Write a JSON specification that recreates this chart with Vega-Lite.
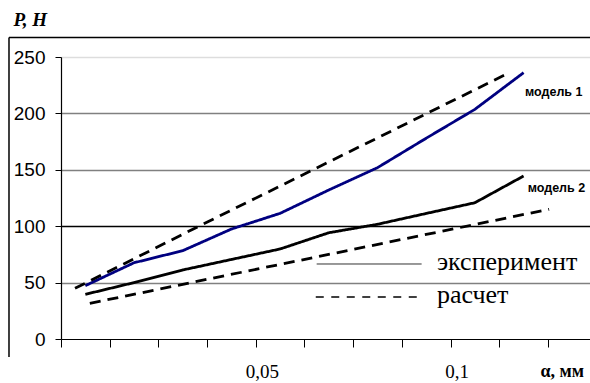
{
  "$schema": "https://vega.github.io/schema/vega-lite/v6.json",
  "width": 529,
  "height": 282,
  "autosize": {"type": "none"},
  "padding": {"left": 61, "top": 57, "right": 0, "bottom": 44},
  "background": "white",
  "config": {"view": {"stroke": null}},
  "layer": [
    {
      "data": {"values": [
        {"series": "модель 1 эксперимент", "alpha": 0.00625, "P": 47.3},
        {"series": "модель 1 эксперимент", "alpha": 0.01875, "P": 67.6},
        {"series": "модель 1 эксперимент", "alpha": 0.03125, "P": 78.3},
        {"series": "модель 1 эксперимент", "alpha": 0.04375, "P": 97.5},
        {"series": "модель 1 эксперимент", "alpha": 0.05625, "P": 111.4},
        {"series": "модель 1 эксперимент", "alpha": 0.06875, "P": 132.1},
        {"series": "модель 1 эксперимент", "alpha": 0.08125, "P": 151.9},
        {"series": "модель 1 эксперимент", "alpha": 0.09375, "P": 178},
        {"series": "модель 1 эксперимент", "alpha": 0.10625, "P": 203.6},
        {"series": "модель 1 эксперимент", "alpha": 0.11875, "P": 236.1},
        {"series": "модель 2 эксперимент", "alpha": 0.00625, "P": 39.6},
        {"series": "модель 2 эксперимент", "alpha": 0.01875, "P": 50},
        {"series": "модель 2 эксперимент", "alpha": 0.03125, "P": 61.2},
        {"series": "модель 2 эксперимент", "alpha": 0.04375, "P": 70.5},
        {"series": "модель 2 эксперимент", "alpha": 0.05625, "P": 79.8},
        {"series": "модель 2 эксперимент", "alpha": 0.06875, "P": 94.2},
        {"series": "модель 2 эксперимент", "alpha": 0.08125, "P": 101.7},
        {"series": "модель 2 эксперимент", "alpha": 0.09375, "P": 111.3},
        {"series": "модель 2 эксперимент", "alpha": 0.10625, "P": 120.8},
        {"series": "модель 2 эксперимент", "alpha": 0.11875, "P": 144.5},
        {"series": "модель 1 расчет", "alpha": 0.0036, "P": 44.9},
        {"series": "модель 1 расчет", "alpha": 0.0357, "P": 100.5},
        {"series": "модель 1 расчет", "alpha": 0.1148, "P": 235.6},
        {"series": "модель 2 расчет", "alpha": 0.0074, "P": 31.6},
        {"series": "модель 2 расчет", "alpha": 0.0614, "P": 69.8},
        {"series": "модель 2 расчет", "alpha": 0.1253, "P": 115.0}
      ]},
      "mark": {"type": "line", "strokeWidth": 2.8, "strokeCap": "butt"},
      "encoding": {
        "x": {
          "field": "alpha", "type": "quantitative",
          "scale": {"domain": [0, 0.1358], "nice": false, "zero": false},
          "axis": {
            "values": [0, 0.0125, 0.025, 0.0375, 0.05, 0.0625, 0.075, 0.0875, 0.1, 0.1125, 0.125],
            "labelExpr": "abs(datum.value - 0.05) < 1e-9 ? '0,05' : (abs(datum.value - 0.1) < 1e-9 ? '0,1' : '')",
            "title": "α, мм",
            "titleX": 479, "titleY": 37, "titleAlign": "left", "titleBaseline": "alphabetic",
            "titleFont": "Liberation Serif", "titleFontWeight": "bold", "titleFontSize": 18, "titleColor": "#000",
            "grid": false,
            "domainColor": "#000", "domainWidth": 1.2,
            "tickColor": "#000", "tickSize": 8, "tickWidth": 1,
            "labelFont": "Liberation Serif", "labelFontSize": 19, "labelColor": "#000",
            "labelPadding": 15, "labelOffset": 6, "labelFlush": false, "labelOverlap": false, "labelBound": false
          }
        },
        "y": {
          "field": "P", "type": "quantitative",
          "scale": {"domain": [0, 250], "nice": false, "zero": false},
          "axis": {
            "values": [0, 50, 100, 150, 200, 250],
            "title": "P, H",
            "titleAngle": 0, "titleX": -48, "titleY": -38, "titleAlign": "left", "titleBaseline": "middle",
            "titleFont": "Liberation Serif", "titleFontStyle": "italic", "titleFontWeight": "bold", "titleFontSize": 19, "titleColor": "#000",
            "grid": true,
            "gridColor": {"condition": [
              {"test": "datum.value === 100", "value": "#000000"},
              {"test": "datum.value === 250", "value": "#dddddd"},
              {"test": "datum.value === 0", "value": "transparent"}
            ], "value": "#808080"},
            "gridWidth": 1.5,
            "domainColor": "#000", "domainWidth": 1.2,
            "tickColor": "#000", "tickSize": 6, "tickWidth": 1,
            "labelFont": "Liberation Sans", "labelFontSize": 19, "labelColor": "#000", "labelPadding": 10
          }
        },
        "color": {
          "field": "series", "type": "nominal", "legend": null,
          "scale": {
            "domain": ["модель 1 эксперимент", "модель 2 эксперимент", "модель 1 расчет", "модель 2 расчет"],
            "range": ["#000080", "#000000", "#000000", "#000000"]
          }
        },
        "strokeDash": {
          "field": "series", "type": "nominal", "legend": null,
          "scale": {
            "domain": ["модель 1 эксперимент", "модель 2 эксперимент", "модель 1 расчет", "модель 2 расчет"],
            "range": [[1, 0], [1, 0], [11, 7], [11, 7]]
          }
        }
      }
    },
    {
      "data": {"values": [{}]},
      "mark": {"type": "rule", "color": "#000", "strokeWidth": 1.5},
      "encoding": {
        "x": {"datum": -0.01335, "type": "quantitative"},
        "y": {"datum": -15.96, "type": "quantitative"},
        "y2": {"datum": 267.3}
      }
    },
    {
      "data": {"values": [{}]},
      "mark": {"type": "rule", "color": "#000", "strokeWidth": 1.5},
      "encoding": {
        "x": {"datum": -0.01335, "type": "quantitative"},
        "x2": {"datum": 0.15},
        "y": {"datum": 267.3, "type": "quantitative"}
      }
    },
    {
      "data": {"values": [{}]},
      "mark": {"type": "rule", "color": "#333", "strokeWidth": 1},
      "encoding": {
        "x": {"datum": 0.06563, "type": "quantitative"},
        "x2": {"datum": 0.09258},
        "y": {"datum": 66.5, "type": "quantitative"}
      }
    },
    {
      "data": {"values": [{}]},
      "mark": {"type": "rule", "color": "#000", "strokeWidth": 1.5, "strokeDash": [8, 7.5]},
      "encoding": {
        "x": {"datum": 0.0654, "type": "quantitative"},
        "x2": {"datum": 0.0918},
        "y": {"datum": 37.2, "type": "quantitative"}
      }
    },
    {
      "data": {"values": [{}]},
      "mark": {"type": "text", "text": "эксперимент", "align": "left", "baseline": "alphabetic", "font": "Liberation Serif", "fontSize": 26, "color": "#000"},
      "encoding": {
        "x": {"datum": 0.09651, "type": "quantitative"},
        "y": {"datum": 61.2, "type": "quantitative"}
      }
    },
    {
      "data": {"values": [{}]},
      "mark": {"type": "text", "text": "расчет", "align": "left", "baseline": "alphabetic", "font": "Liberation Serif", "fontSize": 26, "color": "#000"},
      "encoding": {
        "x": {"datum": 0.09651, "type": "quantitative"},
        "y": {"datum": 31.9, "type": "quantitative"}
      }
    },
    {
      "data": {"values": [{}]},
      "mark": {"type": "text", "text": "модель 1", "align": "left", "baseline": "middle", "font": "Liberation Sans", "fontWeight": "bold", "fontSize": 12.5, "color": "#000"},
      "encoding": {
        "x": {"datum": 0.1191, "type": "quantitative"},
        "y": {"datum": 219.2, "type": "quantitative"}
      }
    },
    {
      "data": {"values": [{}]},
      "mark": {"type": "text", "text": "модель 2", "align": "left", "baseline": "middle", "font": "Liberation Sans", "fontWeight": "bold", "fontSize": 12.5, "color": "#000"},
      "encoding": {
        "x": {"datum": 0.1198, "type": "quantitative"},
        "y": {"datum": 133.6, "type": "quantitative"}
      }
    }
  ]
}
